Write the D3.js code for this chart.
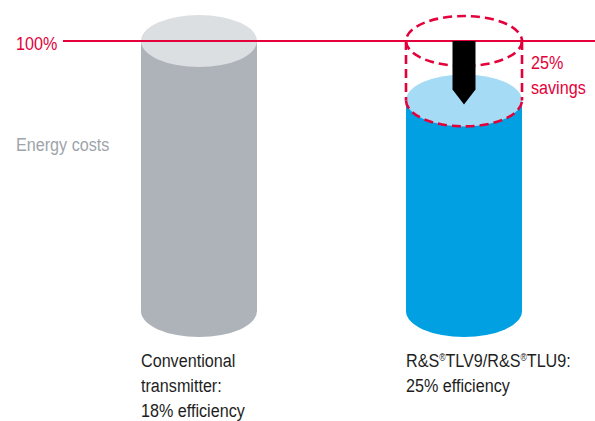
<!DOCTYPE html>
<html><head><meta charset="utf-8">
<script src="https://cdn.jsdelivr.net/npm/d3@7"></script>
<style>
body{margin:0;background:#fff}
svg{display:block;font-family:"Liberation Sans",Arial,sans-serif}
</style></head><body>
<svg id="c" width="595" height="421"></svg>
<script>
const categories = ["Conventional", "R&S TLV9/TLU9"];
const energyCosts = [100, 78];
const referenceLevel = 100;
const savingsLabel = ["25%", "savings"];
const labelLines = [
  [["Conventional"], ["transmitter:"], ["18% efficiency"]],
  [["R&S", "®", "TLV9/R&S", "®", "TLU9:"], ["25% efficiency"]]
];

const svg = d3.select("#c");
const RED = "#e4003b";
const x = d3.scalePoint().domain(categories).range([199, 464]);
const y = d3.scaleLinear().domain([0, 100]).range([311, 41]);
const rx = 58, ry = 26;
const bodyCol = ["#adb3b9", "#00a0e2"];
const topCol = ["#dcdfe2", "#a6dbf5"];

function bodyPath(cx, yt, yb) {
  return `M${cx-rx},${yt} L${cx-rx},${yb} A${rx},${ry} 0 0 0 ${cx+rx},${yb} L${cx+rx},${yt} Z`;
}

categories.forEach((c, i) => {
  const cx = x(c);
  svg.append("path").attr("d", bodyPath(cx, y(energyCosts[i]), y(0))).attr("fill", bodyCol[i]);
  svg.append("ellipse").attr("cx", cx).attr("cy", y(energyCosts[i])).attr("rx", rx).attr("ry", ry).attr("fill", topCol[i]);
});

// dashed "saved" cylinder
const cx2 = x(categories[1]);
const yt = y(referenceLevel), yb = y(energyCosts[1]);
const dash = {"stroke": RED, "stroke-width": 2.6, "fill": "none", "stroke-dasharray": "9,5"};
function applyDash(sel){ Object.entries(dash).forEach(([k,v])=>sel.attr(k,v)); return sel; }
applyDash(svg.append("ellipse").attr("cx", cx2).attr("cy", yt).attr("rx", rx).attr("ry", ry-1));
applyDash(svg.append("path").attr("d", `M${cx2-rx},${yt} L${cx2-rx},${yb}`));
applyDash(svg.append("path").attr("d", `M${cx2+rx},${yt} L${cx2+rx},${yb}`));
applyDash(svg.append("path").attr("d", `M${cx2-rx},${yb} A${rx},${ry} 0 0 0 ${cx2+rx},${yb}`));

// 100% line
svg.append("line").attr("x1", 63).attr("x2", 595).attr("y1", y(referenceLevel)).attr("y2", y(referenceLevel))
  .attr("stroke", RED).attr("stroke-width", 2.2);

// arrow
const aw = 11.5, tipY = yb + 4, shaftEnd = tipY - 15;
svg.append("path")
  .attr("d", `M${cx2-aw},${yt} L${cx2+aw},${yt} L${cx2+aw},${shaftEnd} L${cx2},${tipY} L${cx2-aw},${shaftEnd} Z`)
  .attr("fill", "#000");

// texts (condensed by horizontal scaling)
const fs = 19, sx = 0.85;
function txt(tx, ty, col) {
  return svg.append("text").attr("transform", `translate(${tx},${ty}) scale(${sx},1)`)
    .attr("fill", col).attr("font-size", fs);
}
txt(16, 50, RED).text("100%");
txt(16, 151, "#9ea4ab").text("Energy costs");
savingsLabel.forEach((t, i) => txt(531, 69 + i * 25, RED).text(t));

labelLines.forEach((lines, i) => {
  const lx = x(categories[i]) - rx;
  lines.forEach((parts, j) => {
    const t = txt(lx, 367 + j * 25, "#1e1e1e");
    let shift = 0;
    parts.forEach(p => {
      if (p === "®") {
        t.append("tspan").attr("font-size", 10).attr("dy", -6).text(p);
        shift = 6;
      } else {
        const s = t.append("tspan").text(p);
        if (shift) { s.attr("dy", shift); shift = 0; }
      }
    });
  });
});
</script></body></html>
